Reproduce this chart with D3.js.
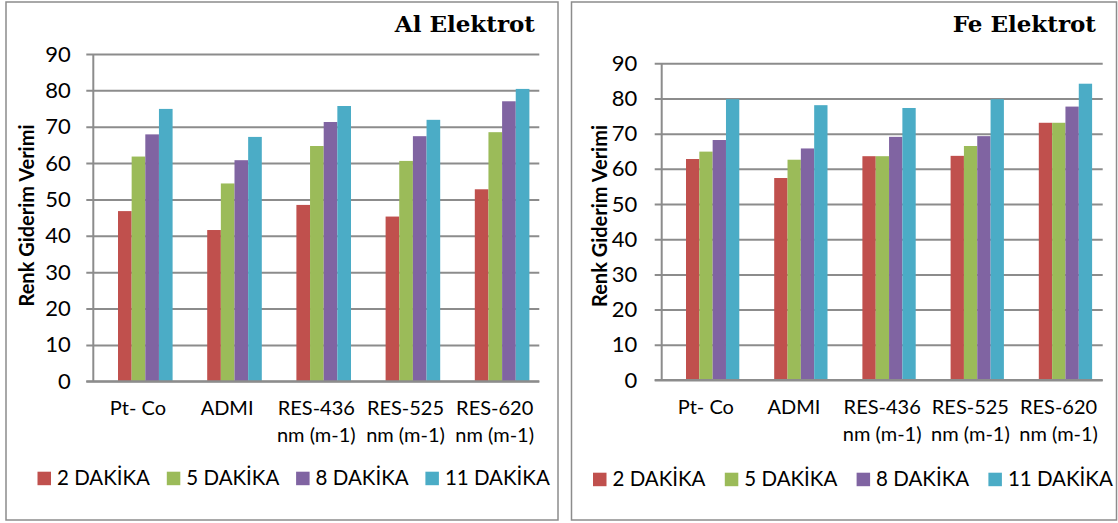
<!DOCTYPE html>
<html>
<head>
<meta charset="utf-8">
<script src="https://cdn.jsdelivr.net/npm/d3@7"></script>
<style>
  body { margin: 0; background: #fff; }
  svg { display: block; }
  text { font-family: Lato, "Open Sans", sans-serif; fill: #000; }
</style>
</head>
<body>
<svg id="chart" width="1118" height="523"></svg>
<script>
// categories (x axis), two label lines each
const categories = ['Pt- Co', 'ADMI', 'RES-436', 'RES-525', 'RES-620'];
const categoryLines = [['Pt- Co'], ['ADMI'], ['RES-436', 'nm (m-1)'], ['RES-525', 'nm (m-1)'], ['RES-620', 'nm (m-1)']];
const seriesNames = ['2 DAKİKA', '5 DAKİKA', '8 DAKİKA', '11 DAKİKA'];
const seriesColors = ['#C0504D', '#9BBB59', '#8064A2', '#4BACC6'];
const yTicks = [0, 10, 20, 30, 40, 50, 60, 70, 80, 90];

// Al Elektrot values, one array per series (order of categories)
const al2 = [46.8, 41.6, 48.5, 45.3, 52.8];
const al5 = [61.8, 54.4, 64.7, 60.6, 68.5];
const al8 = [67.9, 60.8, 71.3, 67.4, 77.0];
const al11 = [74.9, 67.2, 75.7, 71.9, 80.4];

// Fe Elektrot values
const fe2 = [62.8, 57.4, 63.6, 63.7, 73.1];
const fe5 = [64.9, 62.6, 63.6, 66.5, 73.1];
const fe8 = [68.2, 65.8, 69.1, 69.3, 77.7];
const fe11 = [79.8, 78.1, 77.3, 79.8, 84.2];

const svg = d3.select('#chart');
const gray = '#8c8c8c';

function drawPanel(p) {
    const g = svg.append('g');

    // outer frame
    g.append('rect')
        .attr('x', p.frame[0]).attr('y', p.frame[1])
        .attr('width', p.frame[2] - p.frame[0]).attr('height', p.frame[3] - p.frame[1])
        .attr('fill', 'none').attr('stroke', gray).attr('stroke-width', 1.5);

    // title
    g.append('text')
        .attr('x', p.titleX).attr('y', 32)
        .attr('text-anchor', 'end')
        .style('font-family', '"DejaVu Serif", serif')
        .style('font-weight', 'bold')
        .style('font-size', '23px')
        .text(p.title);

    const x = d3.scaleBand().domain(categories).range([p.left, p.right]);
    const xSub = d3.scaleBand().domain(seriesNames)
        .range([p.groupStart, p.groupStart + p.groupWidth]);
    const y = d3.scaleLinear().domain([0, 90]).range([p.bottom, p.top]);

    // gridlines + y axis labels
    const yAxis = g.append('g')
        .attr('transform', `translate(${p.left},0)`)
        .call(d3.axisLeft(y).tickValues(yTicks)
            .tickSizeInner(-(p.right - p.left)).tickSizeOuter(0)
            .tickPadding(p.tickPad));
    yAxis.select('.domain').remove();
    yAxis.selectAll('.tick line')
        .attr('x1', -7)
        .attr('stroke', gray).attr('stroke-width', 2);
    yAxis.selectAll('.tick text')
        .attr('x', -p.tickPad)
        .style('font-size', '22px');

    // vertical axis line
    g.append('line')
        .attr('x1', p.left).attr('x2', p.left)
        .attr('y1', y(90)).attr('y2', y(0))
        .attr('stroke', gray).attr('stroke-width', 2);

    // bars
    const groups = g.selectAll('.grp')
        .data(categories)
        .enter()
        .append('g')
        .attr('transform', d => `translate(${x(d)},0)`);
    groups.selectAll('rect')
        .data((d, i) => seriesNames.map((s, j) => ({ s: s, v: p.values[j][i], c: seriesColors[j] })))
        .enter()
        .append('rect')
        .attr('x', d => xSub(d.s))
        .attr('width', xSub.bandwidth())
        .attr('y', d => y(d.v))
        .attr('height', d => y(0) - y(d.v))
        .attr('fill', d => d.c);

    // baseline drawn over bars
    g.append('line')
        .attr('x1', p.left - 7).attr('x2', p.right)
        .attr('y1', y(0)).attr('y2', y(0))
        .attr('stroke', gray).attr('stroke-width', 2);

    // category labels
    const lab = g.selectAll('.xlab')
        .data(categories)
        .enter()
        .append('text')
        .attr('text-anchor', 'middle')
        .style('font-size', '20px');
    lab.selectAll('tspan')
        .data((d, i) => categoryLines[i].map(t => ({ t: t, c: d })))
        .enter()
        .append('tspan')
        .attr('x', d => x(d.c) + x.bandwidth() / 2)
        .attr('y', (d, k) => p.labelY + k * 27)
        .text(d => d.t);

    // y title
    g.append('text')
        .attr('transform', `translate(${p.yTitleX},${p.yTitleY}) rotate(-90)`)
        .attr('text-anchor', 'middle')
        .style('font-weight', 'bold')
        .style('font-size', '20px')
        .text('Renk Giderim Verimi');

    // legend
    const leg = g.selectAll('.leg')
        .data(seriesNames)
        .enter()
        .append('g')
        .attr('transform', (d, i) => `translate(${p.legendX + i * p.legendStep},${p.legendY})`);
    leg.append('rect')
        .attr('width', 13.5).attr('height', 13.5)
        .attr('fill', (d, i) => seriesColors[i]);
    leg.append('text')
        .attr('x', 19.5).attr('y', 13.7)
        .style('font-size', '20.5px')
        .text(d => d);
}

drawPanel({
    title: 'Al Elektrot', titleX: 535,
    frame: [6, 2, 558, 520],
    left: 93.3, right: 539.3, top: 54, bottom: 381.3,
    groupStart: 24.7, groupWidth: 54.6, tickPad: 22.6,
    labelY: 415, yTitleX: 34, yTitleY: 215.5,
    legendX: 37.5, legendStep: 129.3, legendY: 471.7,
    values: [al2, al5, al8, al11]
});

drawPanel({
    title: 'Fe Elektrot', titleX: 1096,
    frame: [571.5, 2, 1116.5, 520],
    left: 661.7, right: 1102.7, top: 63.3, bottom: 380,
    groupStart: 24.3, groupWidth: 53.3, tickPad: 24.4,
    labelY: 414, yTitleX: 606.7, yTitleY: 216,
    legendX: 593, legendStep: 131.8, legendY: 472.7,
    values: [fe2, fe5, fe8, fe11]
});
</script>
</body>
</html>
